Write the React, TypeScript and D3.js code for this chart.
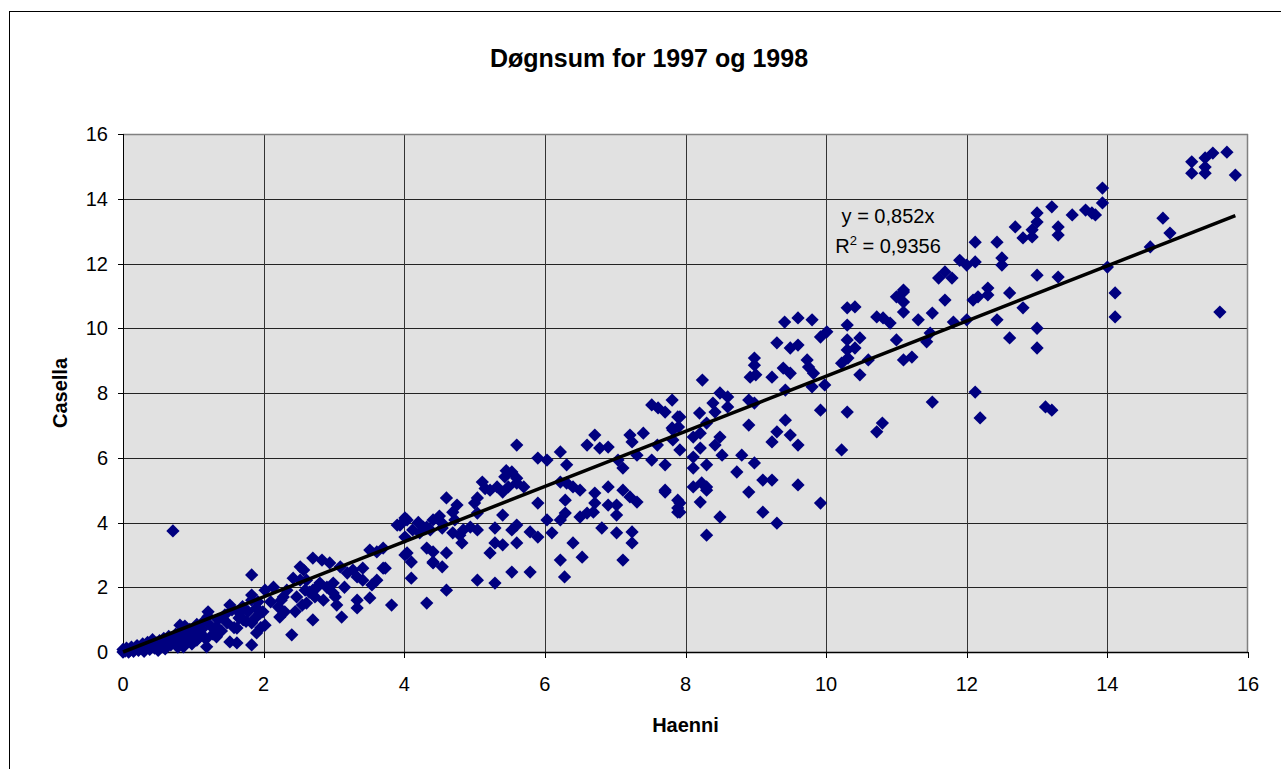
import React from "react";
import * as d3 from "d3";

const title = "Døgnsum for 1997 og 1998";
const xLabel = "Haenni";
const yLabel = "Casella";
const tickValues = [0, 2, 4, 6, 8, 10, 12, 14, 16];
const slope = 0.852;
const eqLine1 = "y = 0,852x";
const eqR2 = "0,9356";

// [Haenni, Casella]
const points: [number, number][] = [
  [0, 0], [0, 0.08], [0.03, 0.03], [0.05, 0.12], [0.08, 0], [0.1, 0.05], [0.12, 0.15], [0.15, 0.02],
  [0.18, 0.1], [0.2, 0.2], [0.22, 0.05], [0.25, 0.12], [0.28, 0.25], [0.3, 0.02], [0.32, 0.15],
  [0.35, 0.3], [0.38, 0.08], [0.4, 0.2], [0.42, 0.38], [0.45, 0.12], [0.48, 0.28], [0.5, 0.05],
  [0.52, 0.35], [0.55, 0.2], [0.58, 0.42], [0.6, 0.1], [0.62, 0.3], [0.65, 0.48], [0.68, 0.22],
  [0.72, 0.38], [0.75, 0.55], [0.78, 0.15], [0.8, 0.45], [0.83, 0.62], [0.86, 0.3], [0.88, 0.8],
  [0.92, 0.5], [0.95, 0.7], [0.98, 0.25], [1.02, 0.6], [1.05, 0.85], [1.08, 0.45], [1.12, 0.7],
  [1.15, 0.95], [1.18, 0.4], [1.25, 0.8], [1.28, 0.55], [1.35, 1.0], [1.4, 0.65], [1.45, 1.15],
  [1.48, 0.9], [1.55, 1.3], [1.58, 0.75], [1.65, 1.05], [1.7, 1.4], [1.75, 0.95], [1.78, 1.25],
  [1.88, 1.05], [1.92, 1.55], [1.96, 0.75], [0.71, 3.74],
  [1.21, 1.24], [1.21, 1.1], [1.19, 0.16], [1.33, 0.78], [1.33, 0.47], [1.52, 1.45], [1.52, 0.31],
  [1.62, 0.28], [1.62, 0.74], [1.66, 1.2], [1.71, 0.99], [1.83, 2.38], [1.83, 1.76], [1.83, 1.6],
  [1.83, 0.9], [1.83, 0.22], [1.9, 0.59], [1.9, 1.36], [1.95, 1.2], [2.02, 0.83], [1.99, 1.24],
  [0.91, 0.59], [0.81, 0.83], [0.77, 0.47], [0.95, 0.37], [1.1, 0.59], [1.05, 0.37], [0.86, 0.16],
  [2.02, 1.91], [2.14, 2.0], [2.21, 1.39], [2.23, 1.08], [2.33, 1.91], [2.4, 0.53], [2.42, 2.28],
  [2.47, 1.7], [2.52, 2.63], [2.57, 2.53], [2.59, 1.91], [2.61, 1.51], [2.7, 0.99], [2.7, 1.91],
  [2.73, 1.7], [2.7, 2.9], [2.83, 2.84], [2.94, 2.75], [2.8, 2.13], [2.9, 2.0], [2.99, 2.13],
  [3.02, 1.7], [3.04, 1.45], [3.11, 1.08], [3.09, 2.63], [3.19, 2.44], [3.27, 2.53], [3.33, 2.32],
  [3.33, 1.6], [3.33, 1.36], [3.41, 2.59], [3.41, 2.22], [3.51, 3.15], [3.51, 1.67], [3.54, 2.07],
  [3.61, 2.22], [3.61, 3.09], [3.7, 2.59], [3.7, 3.21], [3.82, 1.45], [3.9, 3.92], [2.28, 1.7],
  [2.3, 1.24], [2.52, 2.22], [2.61, 2.22], [2.76, 2.0], [2.99, 1.82], [2.1, 1.55], [2.45, 1.25],
  [2.65, 1.85], [2.85, 1.6], [3.15, 2.0], [2.25, 1.6], [2.55, 1.45],
  [5.6, 6.39], [5.9, 5.99], [6.03, 5.93], [6.22, 6.18], [6.31, 5.78], [6.6, 6.39], [6.71, 6.7],
  [6.78, 6.3], [6.9, 6.33], [7.04, 5.93], [7.11, 5.68], [7.21, 6.7], [7.24, 6.49], [7.4, 6.76],
  [7.31, 6.08], [7.52, 7.63], [7.61, 7.54], [7.71, 7.41], [7.81, 7.78], [7.52, 5.93], [7.6, 6.39],
  [7.71, 5.78], [7.71, 4.94], [7.89, 7.26], [7.82, 6.86], [7.89, 4.45], [7.89, 4.32], [5.6, 5.37],
  [5.53, 5.56], [5.43, 5.41], [5.48, 5.1], [5.6, 5.22], [5.4, 4.94], [5.32, 5.1], [5.22, 5.0],
  [5.11, 5.25], [5.04, 4.76], [5.0, 4.6], [5.04, 4.29], [4.75, 4.54], [4.69, 4.32], [4.6, 4.76],
  [4.72, 4.08], [4.84, 3.77], [4.94, 3.86], [5.04, 3.77], [4.79, 3.61], [4.69, 3.68], [4.82, 3.37],
  [4.6, 3.06], [4.54, 3.98], [4.41, 4.08], [4.32, 3.86], [4.37, 3.77], [4.22, 3.68], [4.12, 3.77],
  [4.04, 4.08], [3.94, 3.92], [4.01, 3.55], [4.04, 3.06], [4.1, 2.78], [4.1, 2.28], [4.32, 3.21],
  [4.41, 3.09], [4.41, 2.75], [4.54, 2.63], [4.6, 1.91], [4.32, 1.51], [3.73, 2.59], [5.04, 2.22],
  [5.29, 2.13], [5.22, 3.06], [5.29, 3.37], [5.4, 3.31], [5.29, 3.83], [5.53, 3.77], [5.6, 3.92],
  [5.6, 3.37], [5.53, 2.47], [5.4, 4.23], [5.79, 2.47], [5.79, 3.71], [5.9, 3.55], [5.9, 4.6],
  [6.03, 4.08], [6.1, 3.68], [6.22, 2.84], [6.28, 2.32], [6.22, 4.08], [6.29, 4.29], [6.29, 4.69],
  [6.22, 5.25], [6.31, 5.22], [6.4, 3.37], [6.5, 4.17], [6.53, 2.93], [6.4, 5.1], [6.5, 5.0],
  [6.6, 4.29], [6.69, 4.32], [6.71, 4.91], [6.71, 4.6], [6.81, 3.83], [6.9, 5.1], [6.9, 4.54],
  [7.02, 4.54], [7.02, 4.23], [7.02, 3.68], [7.11, 5.0], [7.11, 2.84], [7.21, 4.79], [7.31, 4.63],
  [7.24, 3.71], [7.24, 3.37], [7.71, 5.0], [7.89, 4.69], [4.01, 4.14], [4.01, 3.0], [4.27, 3.86],
  [4.41, 2.78], [4.54, 3.83], [4.2, 4.0], [4.5, 4.2], [5.15, 5.05], [5.45, 5.6], [5.7, 5.1],
  [7.92, 7.26], [7.81, 6.92], [7.9, 6.95], [7.82, 6.55], [7.92, 6.24], [7.92, 4.6], [7.92, 4.32],
  [8.24, 8.4], [8.2, 7.38], [8.3, 7.07], [8.11, 6.64], [8.21, 6.76], [8.21, 6.3], [8.11, 6.02],
  [8.11, 5.68], [8.3, 5.78], [8.11, 5.1], [8.23, 5.22], [8.3, 5.1], [8.3, 5.0], [8.21, 4.63],
  [8.49, 4.17], [8.3, 3.61], [8.39, 7.69], [8.49, 8.0], [8.6, 7.88], [8.42, 7.41], [8.6, 7.57],
  [8.49, 6.64], [8.42, 6.39], [8.52, 6.08], [8.8, 6.08], [8.73, 5.56], [8.9, 7.01], [8.9, 7.78],
  [8.98, 7.69], [8.98, 5.84], [8.9, 4.94], [9.1, 5.31], [9.23, 5.31], [9.1, 4.32], [9.3, 3.98],
  [8.92, 8.49], [8.98, 9.08], [8.98, 8.86], [9.0, 8.56], [9.23, 8.49], [9.3, 9.55], [9.41, 10.19],
  [9.6, 10.32], [9.8, 10.26], [9.49, 9.39], [9.6, 9.48], [9.39, 8.77], [9.49, 8.61], [9.42, 8.09],
  [9.73, 9.02], [9.75, 8.8], [9.82, 8.61], [9.8, 8.19], [9.98, 8.25], [9.92, 7.47], [9.42, 7.16],
  [9.3, 6.8], [9.23, 6.49], [9.49, 6.7], [9.6, 6.39], [9.6, 5.16], [9.92, 4.6], [9.92, 9.73],
  [10.01, 9.89], [10.22, 8.92], [10.3, 10.63], [10.41, 10.66], [10.3, 10.1], [10.3, 9.64],
  [10.3, 9.33], [10.31, 9.08], [10.41, 9.39], [10.48, 9.7], [10.48, 8.56], [10.6, 9.02],
  [10.3, 7.41], [10.22, 6.24], [10.72, 10.35], [10.81, 10.32], [10.91, 10.16], [11.0, 9.64],
  [11.0, 10.97], [11.1, 11.12], [11.1, 10.5], [11.1, 9.02], [10.8, 7.07], [10.72, 6.8],
  [11.1, 11.18], [11.1, 10.81], [11.31, 10.26], [11.51, 10.47], [11.48, 9.85], [11.43, 9.58],
  [11.22, 9.11], [11.51, 7.72], [11.6, 11.55], [11.69, 11.74], [11.79, 11.55], [11.69, 10.87],
  [11.81, 10.19], [11.9, 12.1], [12.0, 11.95], [12.12, 12.05], [12.12, 12.66], [12.0, 10.26],
  [12.09, 10.87], [12.16, 10.97], [12.3, 11.24], [12.3, 11.03], [12.12, 8.03], [12.19, 7.23],
  [12.43, 12.66], [12.5, 12.17], [12.5, 11.95], [12.61, 11.09], [12.43, 10.26], [12.8, 10.63],
  [12.61, 9.7], [12.69, 13.13], [12.8, 12.79], [12.93, 13.04], [12.93, 12.82], [13.0, 13.56],
  [13.0, 13.28], [13.0, 11.64], [13.0, 10.0], [13.0, 9.39], [13.12, 7.57], [13.21, 7.47],
  [13.21, 13.75], [13.3, 13.13], [13.3, 12.88], [13.3, 11.58], [13.5, 13.5], [13.69, 13.65],
  [13.78, 13.56], [13.83, 13.5], [13.93, 14.33], [13.93, 13.87], [14.0, 11.89], [14.11, 11.09],
  [14.11, 10.35], [15.2, 15.14], [15.2, 14.79], [15.39, 15.26], [15.39, 14.98], [15.39, 14.79],
  [15.5, 15.41], [15.7, 15.44], [15.82, 14.73], [14.79, 13.4], [14.89, 12.94], [14.61, 12.51],
  [15.6, 10.5],
];

const W = 1281;
const H = 769;
const PL = 123, PR = 1248, PT = 134, PB = 652;
const font = "Arial, 'Liberation Sans', Helvetica, sans-serif";

export default function App() {
  const x = d3.scaleLinear().domain([0, 16]).range([PL, PR]);
  const y = d3.scaleLinear().domain([0, 16]).range([PB, PT]);
  const diamond = d3.symbol().type(d3.symbolSquare).size(88)()!;
  const xMax = d3.max(points, (p) => p[0])!;
  const trend = d3.line<number>().x((v) => x(v)).y((v) => y(slope * v))([0, xMax])!;
  const eqX = 888;

  return (
    <svg
      width={W}
      height={H}
      style={{ position: "absolute", left: 0, top: 0, display: "block", background: "#fff" }}
      fontFamily={font}
    >
      <rect x={9.5} y={11.5} width={W + 20} height={H + 20} fill="#fff" stroke="#000" strokeWidth={1} />
      <rect x={PL} y={PT} width={PR - PL} height={PB - PT} fill="#e1e1e1" />
      {tickValues.filter((t) => t > 0 && t < 16).map((t) => (
        <line key={"h" + t} x1={PL} x2={PR} y1={Math.round(y(t)) + 0.5} y2={Math.round(y(t)) + 0.5} stroke="#222" strokeWidth={1} />
      ))}
      {tickValues.filter((t) => t > 0 && t < 16).map((t) => (
        <line key={"v" + t} y1={PT} y2={PB} x1={Math.round(x(t)) + 0.5} x2={Math.round(x(t)) + 0.5} stroke="#333" strokeWidth={1} />
      ))}
      {/* plot border */}
      <line x1={PL} x2={PR} y1={PT + 0.5} y2={PT + 0.5} stroke="#808080" strokeWidth={1.5} />
      <line x1={PR - 0.5} x2={PR - 0.5} y1={PT} y2={PB} stroke="#808080" strokeWidth={1.5} />
      {/* axes */}
      <line x1={PL + 0.5} x2={PL + 0.5} y1={PT} y2={PB} stroke="#000" strokeWidth={1} />
      <line x1={PL} x2={PR} y1={PB + 0.5} y2={PB + 0.5} stroke="#000" strokeWidth={1.5} />
      {tickValues.map((t) => (
        <g key={"yt" + t}>
          <line x1={PL - 5} x2={PL} y1={Math.round(y(t)) + 0.5} y2={Math.round(y(t)) + 0.5} stroke="#000" />
          <text x={108} y={y(t)} dy="0.36em" textAnchor="end" fontSize={20} fill="#000">{t}</text>
        </g>
      ))}
      {tickValues.map((t) => (
        <g key={"xt" + t}>
          <line x1={Math.round(x(t)) + 0.5} x2={Math.round(x(t)) + 0.5} y1={PB} y2={PB + 6} stroke="#000" />
          <text x={x(t)} y={691} textAnchor="middle" fontSize={20} fill="#000">{t}</text>
        </g>
      ))}
      {points.map((p, i) => (
        <path key={i} d={diamond} transform={`translate(${x(p[0])},${y(p[1])}) rotate(45)`} fill="#000080" />
      ))}
      <path d={trend} stroke="#000" strokeWidth={3.5} fill="none" />
      <text x={eqX} y={223} textAnchor="middle" fontSize={20} fill="#000">{eqLine1}</text>
      <text x={eqX} y={253} textAnchor="middle" fontSize={20} fill="#000">
        R<tspan fontSize={13} dy={-8}>2</tspan><tspan dy={8}>{" = " + eqR2}</tspan>
      </text>
      <text x={649} y={67} textAnchor="middle" fontSize={25} fontWeight="bold" fill="#000">{title}</text>
      <text x={(PL + PR) / 2} y={732} textAnchor="middle" fontSize={20} fontWeight="bold" fill="#000">{xLabel}</text>
      <text transform={`translate(67,${(PT + PB) / 2}) rotate(-90)`} textAnchor="middle" fontSize={20} fontWeight="bold" fill="#000">{yLabel}</text>
    </svg>
  );
}
